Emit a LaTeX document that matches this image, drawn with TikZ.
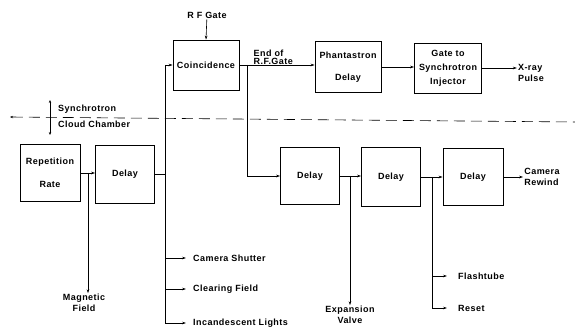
\documentclass[tikz,border=0pt]{standalone}
\usepackage{fontspec}
\setmainfont{Liberation Sans}[LetterSpace=5]
\usetikzlibrary{arrows.meta,positioning}
\tikzset{
  blk/.style={draw,line width=0.8pt,minimum width=60pt,minimum height=57pt,align=center,inner sep=1pt},
  lbl/.style={align=center,inner sep=1pt},
  sig/.style={anchor=west,inner sep=1pt},
  ar/.style={-{Stealth[length=4pt,width=2.6pt]},line width=0.6pt},
  ln/.style={line width=0.6pt},
}
\begin{document}
\begin{tikzpicture}[x=1pt,y=-1pt,font=\fontsize{9}{10.5}\selectfont\bfseries]
\useasboundingbox (0,0) rectangle (575,328);
% upper chain (synchrotron)
\node[blk,minimum width=66pt,minimum height=50pt] (coin) at (206,65) {Coincidence};
\node[blk,minimum width=66pt,minimum height=51pt] (phan) at (348,67) {Phantastron\\[12pt]Delay};
\node[blk,minimum width=67pt,minimum height=50pt,font=\fontsize{9}{14}\selectfont\bfseries] (gate) at (448,68) {Gate to\\Synchrotron\\Injector};
\node[lbl] (rf) at (207,15) {R F Gate};
\node[lbl,align=left] (xray) at (531,73) {X-ray\\Pulse};
\draw[ar] (rf) -- (coin.north);
\draw[ar] (coin.east) -- (phan.west |- coin.east)
  node[pos=0.45,above=-1pt,lbl,align=left,font=\fontsize{9}{8.4}\selectfont\bfseries] {End of\\R.F.Gate};
\draw[ar] (phan.east |- 0,67) -- (gate.west |- 0,67);
\draw[ar] (gate.east) -- (gate.east -| xray.west);
% boundary
\draw[ln,dash pattern=on 11pt off 6pt,{Stealth[length=3pt,width=2.4pt]}-] (10,117) -- (575,122);
\draw[ln,{Stealth[length=3pt,width=2.4pt]}-{Stealth[length=3pt,width=2.4pt]}] (50,100) -- (50,135);
\node[sig] (syn) at (57,109) {Synchrotron};
\node[sig] (cc) at (57,124) {Cloud Chamber};
% lower chain (cloud chamber)
\node[blk] (rep) at (50,173) {Repetition\\[12pt]Rate};
\node[blk,minimum width=59pt,minimum height=58pt] (d1) at (125,174) {Delay};
\node[blk,minimum width=59pt] (d2) at (310,176) {Delay};
\node[blk,minimum width=59pt,minimum height=59pt] (d3) at (391,177) {Delay};
\node[blk] (d4) at (473,177) {Delay};
\node[lbl] (mag) at (84,303) {Magnetic\\Field};
\node[sig] (cam) at (192,258) {Camera Shutter};
\node[sig] (clr) at (192,289) {Clearing Field};
\node[sig] (inc) at (192,323) {Incandescent Lights};
\node[lbl] (exp) at (350,315) {Expansion\\Valve};
\node[sig] (fla) at (457,276) {Flashtube};
\node[sig] (rst) at (457,308) {Reset};
\node[lbl,align=left] (rew) at (542,177) {Camera\\Rewind};
\coordinate (jm) at (88,173);
\coordinate (jd) at (165,174);
\coordinate (jc) at (247,65);
\coordinate (je) at (350,176);
\coordinate (jf) at (432,177);
\draw[ar] (rep.east |- jm) -- (d1.west |- jm);
\draw[ar] (jm) -- (mag.north -| jm);
\draw[ln] (d1.east |- jd) -- (jd);
\draw[ar] (jd |- coin.west) -- (coin.west);
\draw[ln] (jd |- coin.west) -- (jd |- inc.west);
\foreach \t in {cam,clr,inc}
  \draw[ar] (jd |- \t.west) -- ([xshift=-6pt]\t.west);
\draw[ln] (jc) -- (jc |- d2.west);
\draw[ar] (jc |- d2.west) -- (d2.west);
\draw[ar] (d2.east |- je) -- (d3.west |- je);
\draw[ar] (je) -- (exp.north -| je);
\draw[ar] (d3.east |- jf) -- (d4.west |- jf);
\draw[ln] (jf) -- (jf |- rst.west);
\foreach \t in {fla,rst}
  \draw[ar] (jf |- \t.west) -- ([xshift=-10pt]\t.west);
\draw[ar] (d4.east) -- (d4.east -| rew.west);
\end{tikzpicture}
\end{document}
